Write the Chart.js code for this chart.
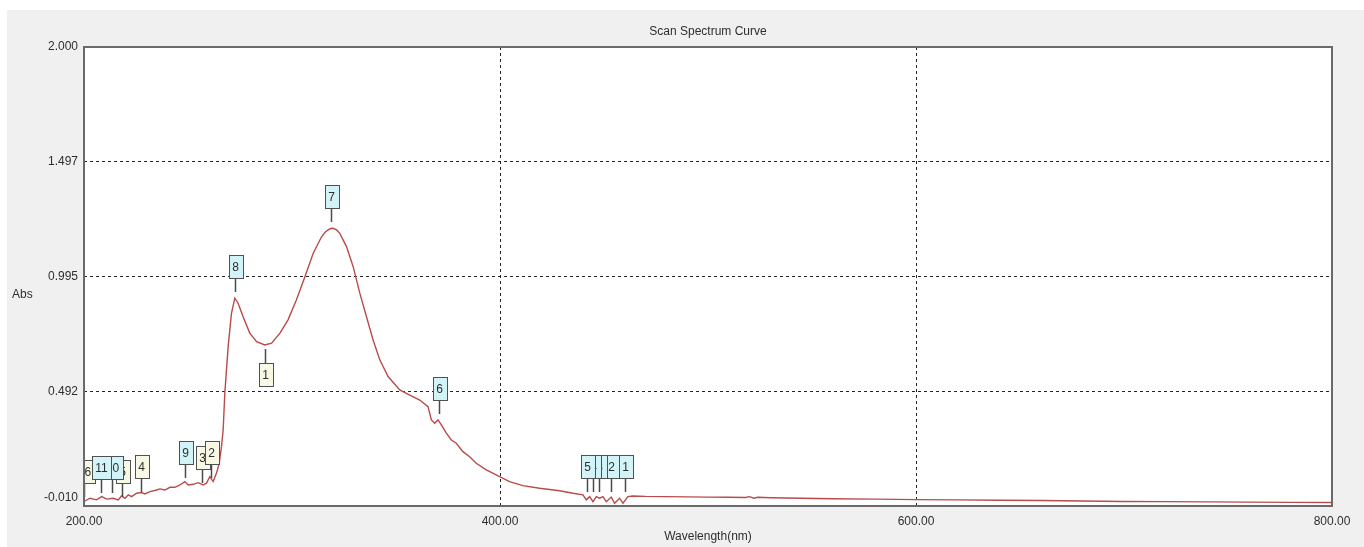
<!DOCTYPE html>
<html><head><meta charset="utf-8">
<script src="https://cdn.jsdelivr.net/npm/chart.js@4.4.1/dist/chart.umd.min.js"></script>
<style>html,body{margin:0;padding:0;background:#fff;overflow:hidden}canvas{display:block}</style>
</head><body>
<canvas id="c" width="1364" height="547"></canvas>
<script>
const chartTitle = 'Scan Spectrum Curve';
const xTitle = 'Wavelength(nm)';
const yTitle = 'Abs';
const xTicks = [200, 400, 600, 800];
const yTicks = [-0.010, 0.492, 0.995, 1.497, 2.000];

const wavelength = [
  200, 202.9, 206, 208.5, 210.9, 214, 216.5, 218, 219.7, 221.3,
  222.9, 225.3, 227.7, 229.3, 231.7, 234.9, 236.5, 238.9, 241.3, 243.7,
  246.1, 248.5, 250.1, 252.5, 254.9, 257.3, 258.9, 260.5, 262.1, 263.7,
  265, 266.1, 266.9, 267.7, 269.3, 270.9, 272.5, 274.1, 276.5, 279.7,
  283, 286.9, 290.2, 294.2, 298.1, 302.1, 306.2, 310.2, 314.2, 316,
  317.4, 318.6, 319.8, 321.4, 323, 326.2, 329.4, 332.6, 335.8, 339,
  342.2, 346.2, 351.8, 356.6, 361.4, 365.4, 367, 368.6, 370.2, 371.8,
  374.2, 376.6, 379, 382.2, 385.4, 388.6, 393.4, 399.8, 404.6, 411,
  419, 428.7, 435.1, 439.9, 441.5, 443.1, 444.7, 446.3, 447.9, 449.5,
  451.1, 453.5, 455.1, 457.5, 459.1, 461.5, 463.9, 470, 480, 490,
  500, 510, 518, 520, 522, 524, 530, 545, 560, 580,
  600, 620, 640, 660, 680, 700, 720, 740, 760, 780,
  800
];
const absorbance = [
  0.010, 0.024, 0.017, 0.031, 0.020, 0.024, 0.017, 0.034, 0.024, 0.039,
  0.031, 0.046, 0.049, 0.043, 0.053, 0.060, 0.065, 0.060, 0.072, 0.072,
  0.082, 0.097, 0.082, 0.085, 0.092, 0.082, 0.090, 0.119, 0.097, 0.134,
  0.177, 0.250, 0.323, 0.484, 0.688, 0.834, 0.900, 0.878, 0.819, 0.747,
  0.710, 0.695, 0.703, 0.747, 0.805, 0.892, 0.994, 1.097, 1.169, 1.190,
  1.199, 1.205, 1.206, 1.199, 1.184, 1.126, 1.038, 0.922, 0.819, 0.717,
  0.630, 0.557, 0.498, 0.476, 0.454, 0.425, 0.367, 0.352, 0.367, 0.345,
  0.309, 0.279, 0.265, 0.228, 0.206, 0.177, 0.148, 0.119, 0.097, 0.079,
  0.068, 0.057, 0.046, 0.039, 0.017, 0.031, 0.009, 0.031, 0.024, 0.031,
  0.009, 0.029, 0.002, 0.024, 0.002, 0.031, 0.034, 0.032, 0.031, 0.030,
  0.029, 0.028, 0.027, 0.031, 0.024, 0.028, 0.026, 0.024, 0.022, 0.020,
  0.018, 0.017, 0.015, 0.014, 0.012, 0.010, 0.009, 0.008, 0.007, 0.006,
  0.005
];

// peak / valley markers (drawn back to front)
const markText = ['16', '5', '10', '11', '4', '9', '3', '2', '8', '7', '1', '6', '1', '2', '3', '4', '5'];
const markNm   = [200, 218.3, 213.4, 208.2, 227.4, 248.5, 256.7, 261, 272.5, 318.6, 286.9, 370.5, 460.3, 453.6, 447.4, 444.6, 442];
const markAbs  = [0.030, 0.030, 0.047, 0.047, 0.052, 0.113, 0.091, 0.113, 0.927, 1.234, 0.678, 0.393, 0.052, 0.052, 0.052, 0.052, 0.052];
const markType = ['V', 'V', 'P', 'P', 'V', 'P', 'V', 'V', 'P', 'P', 'V', 'P', 'P', 'P', 'P', 'P', 'P'];
const markBelow = [false, false, false, false, false, false, false, false, false, false, true, false, false, false, false, false, false];

const FONT = 'Liberation Sans, Arial, sans-serif';
const TEXT = '#2e2e2e';

const bgPlugin = {
  id: 'bg',
  beforeDraw(chart) {
    const {ctx, chartArea: a, width, height} = chart;
    ctx.save();
    ctx.fillStyle = '#ffffff';
    ctx.fillRect(0, 0, width, height);
    ctx.fillStyle = '#f0f0f0';
    ctx.fillRect(7, 10, width - 7, height - 10);
    ctx.fillStyle = '#ffffff';
    ctx.fillRect(a.left, a.top, a.right - a.left, a.bottom - a.top);
    ctx.restore();
    // keep the bottom y label inside the frame like the reference
    const items = chart.scales.y.getLabelItems();
    items.forEach(it => {
      if (it.label === '-0.010') {
        it.options.translation[1] = Math.min(it.options.translation[1], a.bottom - 8);
      }
    });
  }
};

const marksPlugin = {
  id: 'marks',
  afterDatasetsDraw(chart) {
    const {ctx, chartArea: a, scales: {x, y}} = chart;
    ctx.save();
    ctx.beginPath();
    ctx.rect(a.left, a.top, a.right - a.left, a.bottom - a.top);
    ctx.clip();
    ctx.font = '12px ' + FONT;
    const stem = 14, h = 23;
    for (let i = 0; i < markText.length; i++) {
      const px = Math.round(x.getPixelForValue(markNm[i])) + 0.5;
      const py = Math.round(y.getPixelForValue(markAbs[i]));
      const below = markBelow[i];
      const w = Math.round(ctx.measureText(markText[i]).width + 7);
      const top = below ? py + stem : py - stem - h;
      ctx.strokeStyle = '#4a4a4a';
      ctx.lineWidth = 1.5;
      ctx.beginPath();
      ctx.moveTo(px, py);
      ctx.lineTo(px, below ? py + stem : py - stem);
      ctx.stroke();
      const bx = Math.round(px - w / 2) + 0.5;
      ctx.fillStyle = markType[i] === 'P' ? '#d2f3f8' : '#f8f8e4';
      ctx.fillRect(bx, top + 0.5, w, h);
      ctx.strokeStyle = '#505050';
      ctx.lineWidth = 1;
      ctx.strokeRect(bx, top + 0.5, w, h);
      ctx.fillStyle = TEXT;
      ctx.textAlign = 'center';
      ctx.textBaseline = 'middle';
      ctx.fillText(markText[i], px, top + h / 2 + 1);
    }
    ctx.restore();
  },
  afterDraw(chart) {
    const {ctx, chartArea: a} = chart;
    ctx.save();
    ctx.strokeStyle = '#6a6a6a';
    ctx.lineWidth = 2;
    ctx.strokeRect(a.left, a.top, a.right - a.left, a.bottom - a.top);
    ctx.fillStyle = TEXT;
    ctx.font = '12px ' + FONT;
    ctx.textAlign = 'left';
    ctx.textBaseline = 'middle';
    ctx.fillText(yTitle, 12, 295);
    ctx.restore();
  }
};

const gridColor = (lo, hi) => ctx => {
  const v = ctx.tick ? ctx.tick.value : null;
  if (v === null || v <= lo || v >= hi) return 'rgba(0,0,0,0)';
  return '#222222';
};

new Chart(document.getElementById('c'), {
  type: 'line',
  data: {
    datasets: [{
      data: wavelength.map((w, i) => ({x: w, y: absorbance[i]})),
      borderColor: '#b94b4b',
      borderWidth: 1.4,
      pointRadius: 0,
      tension: 0,
      fill: false
    }]
  },
  options: {
    responsive: false,
    animation: false,
    devicePixelRatio: 1,
    layout: {padding: {top: 0, right: 32, left: 0, bottom: 0}},
    plugins: {
      legend: {display: false},
      tooltip: {enabled: false},
      title: {
        display: true,
        text: chartTitle,
        fullSize: false,
        color: TEXT,
        font: {family: FONT, size: 12, weight: 'normal'},
        padding: {top: 24, bottom: 8.6}
      }
    },
    scales: {
      x: {
        type: 'linear',
        min: 200, max: 800,
        afterBuildTicks: s => { s.ticks = xTicks.map(v => ({value: v})); },
        afterFit: s => { s.height = 41; },
        ticks: {
          callback: v => Number(v).toFixed(2),
          color: TEXT, font: {family: FONT, size: 12}, padding: 8, maxRotation: 0
        },
        grid: {color: gridColor(200, 800), lineWidth: 1, drawTicks: false},
        border: {display: false, dash: [3, 3]},
        title: {display: true, text: xTitle, color: TEXT, font: {family: FONT, size: 12}, padding: {top: 0, bottom: 3}}
      },
      y: {
        type: 'linear',
        min: -0.010, max: 2.000,
        afterBuildTicks: s => { s.ticks = yTicks.map(v => ({value: v})); },
        afterFit: s => { s.width = 84; },
        ticks: {
          callback: v => Number(v).toFixed(3),
          color: TEXT, font: {family: FONT, size: 12}, padding: 6
        },
        grid: {color: gridColor(-0.010, 2.000), lineWidth: 1, drawTicks: false},
        border: {display: false, dash: [3, 3]}
      }
    }
  },
  plugins: [bgPlugin, marksPlugin]
});
</script>
</body></html>
